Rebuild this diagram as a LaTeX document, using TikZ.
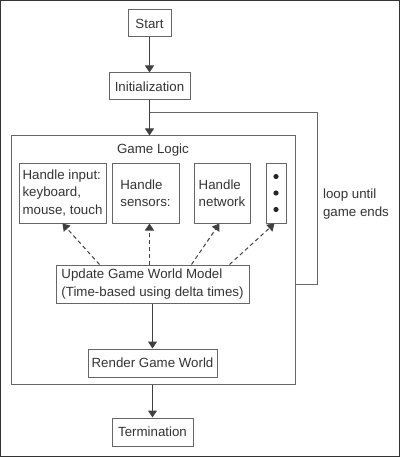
\documentclass[tikz,border=0pt]{standalone}
\usepackage{fontspec}
\setmainfont{Liberation Sans}
\usetikzlibrary{arrows.meta,calc}
\tikzset{
    box/.style={draw=black!60,line width=1pt,text=black!80,inner sep=0pt,align=left,
        font=\fontsize{13.3}{17.5}\selectfont},
    edge/.style={-{Triangle[length=7pt,width=9pt]},draw=black!75,line width=1pt},
    dashededge/.style={edge,dash pattern=on 4pt off 3pt},
    loopline/.style={draw=black!60,line width=1pt}
}

\begin{document}
\begin{tikzpicture}[x=1pt,y=-1pt]
                        % frame
                            \useasboundingbox (0,0) rectangle (400,457);
                            \draw[black!80,line width=1.2pt] (0.6,0.6) rectangle (399.4,456.4);
                        % nodes
                            \node[box,minimum width=43,minimum height=27] (start) at (149.5,23.5) {Start};
                            \node[box,minimum width=81,minimum height=27] (init) at (149.5,86.5) {Initialization};
                            \node[box,minimum width=284,minimum height=248] (logic) at (153,260) {};
                            \node[box,draw=none] (logictitle) at (153,150) {Game Logic};
                            \node[box,minimum width=87,minimum height=60] (input) at (62.5,193) {Handle input:\\keyboard,\\mouse, touch};
                            \node[box,minimum width=67,minimum height=60] (sensors) at (145.5,193) {Handle\\sensors:};
                            \node[box,minimum width=56,minimum height=60] (network) at (222,193) {Handle\\network};
                            \node[box,minimum width=20,minimum height=60] (dots) at (276,193) {};
                            \node[box,minimum width=193,minimum height=38] (update) at (152.5,284) {Update Game World Model\\(Time-based using delta times)};
                            \node[box,minimum width=129,minimum height=28] (render) at (152.5,363) {Render Game World};
                            \node[box,minimum width=81,minimum height=28] (term) at (152.5,432) {Termination};
                            \node[box,draw=none] (looplabel) at (356,204) {loop until\\game ends};
                            \coordinate (loopjoin) at (150,113);
                        % dots
                            \foreach \dy in {-16.5,0,16.5}
                                \fill[black!85] ($(dots.center)+(0,\dy)$) circle (2.6);
                        % edges
                            \draw[edge] (start) -- (init);
                            \draw[edge] (init.south) -- (init.south |- logic.north);
                            \draw[loopline] (logic.east |- update.center) -- ++(22,0) |- (loopjoin);
                            \draw[dashededge] ($(update.north west)+(44,0)$) -- ($(input.south west)+(44,0)$);
                            \draw[dashededge] ($(update.north west)+(94,0)$) -- ($(sensors.south west)+(38,0)$);
                            \draw[dashededge] ($(update.north west)+(136,0)$) -- ($(network.south west)+(26,0)$);
                            \draw[dashededge] ($(update.north west)+(174,0)$) -- ($(dots.south west)+(9,0)$);
                            \draw[edge] (update) -- (render);
                            \draw[edge] (logic.south -| term) -- (term);
\end{tikzpicture}
\end{document}
